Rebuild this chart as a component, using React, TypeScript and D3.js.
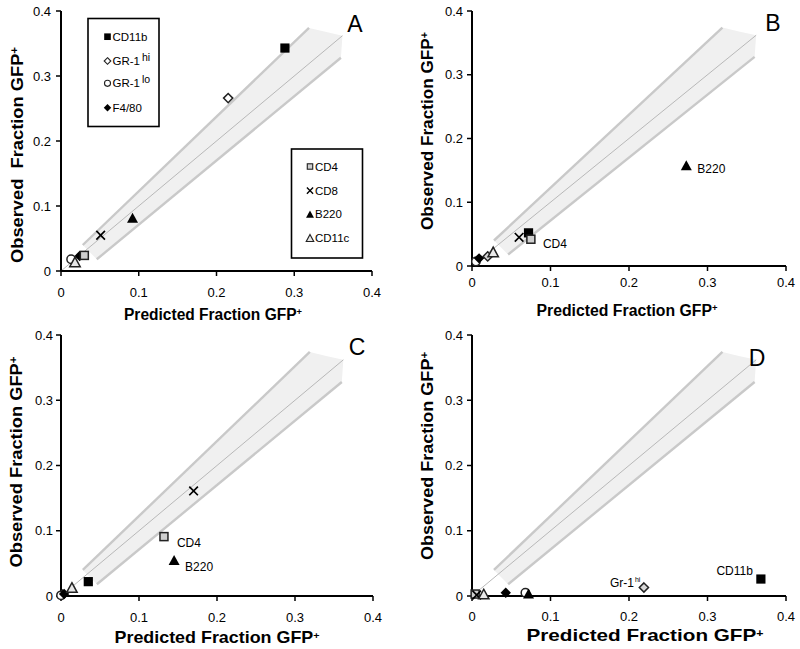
import React from "react";
import * as d3 from "d3";

// ---------- data ----------
const seriesNames = ["CD11b", "GR-1hi", "GR-1lo", "F4/80", "CD4", "CD8", "B220", "CD11c"];
const tickValues = [0, 0.1, 0.2, 0.3, 0.4];

const predA = [0.288, 0.215, 0.013, 0.024, 0.030, 0.051, 0.092, 0.018];
const obsA = [0.343, 0.266, 0.018, 0.023, 0.024, 0.055, 0.082, 0.014];

const predB = [0.072, 0.020, 0.005, 0.009, 0.075, 0.060, 0.273, 0.027];
const obsB = [0.052, 0.015, 0.007, 0.012, 0.042, 0.045, 0.158, 0.022];

const predC = [0.035, 0.002, 0.000, 0.004, 0.132, 0.170, 0.145, 0.014];
const obsC = [0.022, 0.002, 0.001, 0.003, 0.091, 0.161, 0.055, 0.013];

const predD = [0.368, 0.219, 0.068, 0.043, 0.004, 0.006, 0.072, 0.015];
const obsD = [0.026, 0.013, 0.005, 0.005, 0.003, 0.0015, 0.004, 0.003];

// confidence cone (data coordinates)
const coneUpper: [number, number][] = [[0.028, 0.040], [0.319, 0.374]];
const coneLower: [number, number][] = [[0.046, 0.018], [0.360, 0.328]];
const coneCap: [number, number][] = [[0.340, 0.368], [0.362, 0.362]];
const identityLine: [number, number][] = [[0, 0], [0.362, 0.362]];

const FONT = "'Liberation Sans', Arial, Helvetica, sans-serif";

type Box = { l: number; r: number; t: number; b: number };
type Ann = { idx: number; text: string; sup?: string; dx: number; dy: number; anchor?: string };
type PanelCfg = {
  letter: string;
  letterPos: [number, number];
  pred: number[];
  obs: number[];
  box: Box;
  xTickOff: number;
  yTickOff: number;
  xLabelPos: [number, number];
  xLabelLen: number;
  xLabelSize: number;
  yLabelPos: [number, number];
  yLabelLen: number;
  yLabelText: string;
  hiFill: string;
  anns: Ann[];
  legend?: boolean;
};

const panels: PanelCfg[] = [
  {
    letter: "A", letterPos: [355, 32], pred: predA, obs: obsA,
    box: { l: 61, r: 372, t: 11, b: 271 }, xTickOff: 26, yTickOff: 10,
    xLabelPos: [213, 319.5], xLabelLen: 178, xLabelSize: 16,
    yLabelPos: [23, 155], yLabelLen: 216, yLabelText: "Observed  Fraction GFP",
    hiFill: "#ffffff", anns: [], legend: true,
  },
  {
    letter: "B", letterPos: [773, 31], pred: predB, obs: obsB,
    box: { l: 472, r: 786, t: 11, b: 266 }, xTickOff: 21, yTickOff: 9,
    xLabelPos: [627, 315.5], xLabelLen: 181, xLabelSize: 16,
    yLabelPos: [433, 131], yLabelLen: 198, yLabelText: "Observed Fraction GFP",
    hiFill: "#d8d8d8",
    anns: [
      { idx: 6, text: "B220", dx: 11, dy: 8 },
      { idx: 4, text: "CD4", dx: 12, dy: 9 },
    ],
  },
  {
    letter: "C", letterPos: [357, 355], pred: predC, obs: obsC,
    box: { l: 61, r: 373, t: 335, b: 596 }, xTickOff: 26, yTickOff: 8,
    xLabelPos: [217, 643], xLabelLen: 205, xLabelSize: 16.5,
    yLabelPos: [22, 462], yLabelLen: 211, yLabelText: "Observed Fraction GFP",
    hiFill: "#d8d8d8",
    anns: [
      { idx: 4, text: "CD4", dx: 13, dy: 10 },
      { idx: 6, text: "B220", dx: 11, dy: 11 },
    ],
  },
  {
    letter: "D", letterPos: [757, 366], pred: predD, obs: obsD,
    box: { l: 472, r: 786, t: 335, b: 596 }, xTickOff: 25, yTickOff: 9,
    xLabelPos: [645, 641], xLabelLen: 237, xLabelSize: 17,
    yLabelPos: [433, 456], yLabelLen: 208, yLabelText: "Observed Fraction GFP",
    hiFill: "#d8d8d8",
    anns: [
      { idx: 0, text: "CD11b", dx: -8, dy: -4, anchor: "end" },
      { idx: 1, text: "Gr-1", sup: "hi", dx: -34, dy: -1 },
    ],
  },
];

function Marker({ name, cx, cy, k = 1, hiFill = "#fff" }: { name: string; cx: number; cy: number; k?: number; hiFill?: string }) {
  const h = 4.6 * k;
  const sw = 1.5 * Math.max(0.75, k);
  switch (name) {
    case "CD11b":
      return <rect x={cx - h} y={cy - h} width={2 * h} height={2 * h} fill="#000" />;
    case "CD4":
      return <rect x={cx - h + 0.6} y={cy - h + 0.6} width={2 * h - 1.2} height={2 * h - 1.2} fill="#cfcfcf" stroke="#222" strokeWidth={sw} />;
    case "GR-1hi": {
      const d = 4.6 * k;
      return <path d={`M${cx},${cy - d}L${cx + d},${cy}L${cx},${cy + d}L${cx - d},${cy}Z`} fill={hiFill} stroke="#222" strokeWidth={sw} />;
    }
    case "F4/80": {
      const d = 5.2 * k;
      return <path d={`M${cx},${cy - d}L${cx + d},${cy}L${cx},${cy + d}L${cx - d},${cy}Z`} fill="#000" />;
    }
    case "GR-1lo":
      return <circle cx={cx} cy={cy} r={4.2 * k} fill="#fff" stroke="#222" strokeWidth={sw} />;
    case "CD8": {
      const d = 4.3 * k;
      return <path d={`M${cx - d},${cy - d}L${cx + d},${cy + d}M${cx - d},${cy + d}L${cx + d},${cy - d}`} stroke="#000" strokeWidth={1.7 * Math.max(0.8, k)} fill="none" />;
    }
    case "B220": {
      const w = 5.5 * k, hh = 5 * k;
      return <path d={`M${cx},${cy - hh}L${cx + w},${cy + hh}L${cx - w},${cy + hh}Z`} fill="#000" />;
    }
    case "CD11c": {
      const w = 5.2 * k, hh = 4.8 * k;
      return <path d={`M${cx},${cy - hh}L${cx + w},${cy + hh}L${cx - w},${cy + hh}Z`} fill="#e8e8e8" stroke="#222" strokeWidth={sw} />;
    }
  }
  return null;
}

function LegendLabel({ name, x, y }: { name: string; x: number; y: number }) {
  if (name === "GR-1hi" || name === "GR-1lo") {
    return (
      <text x={x} y={y} fontSize={11.5} fontFamily={FONT} fill="#000" style={{ whiteSpace: "pre" }}>
        GR-1
        <tspan dx={2} dy={-4} fontSize={10.5}>{name === "GR-1hi" ? "hi" : "lo"}</tspan>
      </text>
    );
  }
  return (
    <text x={x} y={y} fontSize={11.5} fontFamily={FONT} fill="#000">
      {name}
    </text>
  );
}

function Panel({ cfg }: { cfg: PanelCfg }) {
  const { box } = cfg;
  const x = d3.scaleLinear().domain([0, 0.4]).range([box.l, box.r]);
  const y = d3.scaleLinear().domain([0, 0.4]).range([box.b, box.t]);
  const line = d3.line<[number, number]>().x((d) => x(d[0])).y((d) => y(d[1]));
  const conePoly: [number, number][] = [coneUpper[0], coneUpper[1], ...coneCap, coneLower[1], coneLower[0]];
  const fmt = (v: number) => (v === 0 ? "0" : String(v));

  return (
    <g>
      {/* cone */}
      <path d={line(conePoly) + "Z"} fill="#f0f0f0" stroke="none" />
      <path d={line(coneUpper) || ""} stroke="#c9c9c9" strokeWidth={2.4} fill="none" />
      <path d={line(coneLower) || ""} stroke="#c9c9c9" strokeWidth={2.4} fill="none" />
      <path d={line(identityLine) || ""} stroke="#b8b8b8" strokeWidth={1} fill="none" />

      {/* axes */}
      <line x1={box.l} x2={box.r} y1={box.b} y2={box.b} stroke="#000" strokeWidth={2} />
      <line x1={box.l} x2={box.l} y1={box.t} y2={box.b} stroke="#000" strokeWidth={2} />
      {tickValues.map((t) => (
        <g key={"xt" + t}>
          <line x1={x(t)} x2={x(t)} y1={box.b} y2={box.b + 5} stroke="#000" strokeWidth={1.5} />
          <text x={x(t)} y={box.b + cfg.xTickOff} textAnchor="middle" fontSize={13} fontFamily={FONT} fill="#000">
            {fmt(t)}
          </text>
        </g>
      ))}
      {tickValues.map((t) => (
        <g key={"yt" + t}>
          <line x1={box.l - 5} x2={box.l} y1={y(t)} y2={y(t)} stroke="#000" strokeWidth={1.5} />
          <text x={box.l - cfg.yTickOff} y={y(t) + 4.6} textAnchor="end" fontSize={13} fontFamily={FONT} fill="#000">
            {fmt(t)}
          </text>
        </g>
      ))}

      {/* axis titles */}
      <text
        x={cfg.xLabelPos[0]} y={cfg.xLabelPos[1]} textAnchor="middle" fontSize={cfg.xLabelSize}
        fontWeight="bold" fontFamily={FONT} fill="#000" textLength={cfg.xLabelLen} lengthAdjust="spacingAndGlyphs"
      >
        Predicted Fraction GFP<tspan dy={-4.5} fontSize={cfg.xLabelSize * 0.6}>+</tspan>
      </text>
      <text
        transform={`translate(${cfg.yLabelPos[0]},${cfg.yLabelPos[1]}) rotate(-90)`}
        textAnchor="middle" fontSize={16} fontWeight="bold" fontFamily={FONT} fill="#000"
        textLength={cfg.yLabelLen} lengthAdjust="spacingAndGlyphs" style={{ whiteSpace: "pre" }}
      >
        {cfg.yLabelText}<tspan dy={-5} fontSize={10}>+</tspan>
      </text>

      {/* panel letter */}
      <text x={cfg.letterPos[0]} y={cfg.letterPos[1]} textAnchor="middle" fontSize={23} fontFamily={FONT} fill="#000">
        {cfg.letter}
      </text>

      {/* points */}
      {seriesNames.map((name, i) => (
        <Marker key={name} name={name} cx={x(cfg.pred[i])} cy={y(cfg.obs[i])} hiFill={cfg.hiFill} />
      ))}

      {/* annotations */}
      {cfg.anns.map((a) => (
        <text
          key={a.text}
          x={x(cfg.pred[a.idx]) + a.dx}
          y={y(cfg.obs[a.idx]) + a.dy}
          textAnchor={a.anchor || "start"}
          fontSize={12}
          fontFamily={FONT}
          fill="#000"
        >
          {a.text}
          {a.sup ? <tspan dx={1} dy={-5} fontSize={7}>{a.sup}</tspan> : null}
        </text>
      ))}

      {cfg.legend ? (
        <g>
          <rect x={88} y={18.5} width={71} height={108} fill="#fff" stroke="#000" strokeWidth={1.6} />
          {seriesNames.slice(0, 4).map((n, i) => {
            const cy = [36.7, 61, 83.3, 107.7][i];
            return (
              <g key={"l1" + n}>
                <Marker name={n} cx={107.5} cy={cy} k={0.72} hiFill="#fff" />
                <LegendLabel name={n} x={112.5} y={cy + 4} />
              </g>
            );
          })}
          <rect x={291.5} y={149} width={71} height={109} fill="#fff" stroke="#000" strokeWidth={1.6} />
          {seriesNames.slice(4).map((n, i) => {
            const cy = [166.5, 190.7, 214.2, 238][i];
            return (
              <g key={"l2" + n}>
                <Marker name={n} cx={310} cy={cy} k={0.72} />
                <LegendLabel name={n} x={315} y={cy + 4} />
              </g>
            );
          })}
        </g>
      ) : null}
    </g>
  );
}

export default function App() {
  return (
    <svg
      width={800}
      height={649}
      viewBox="0 0 800 649"
      style={{ position: "absolute", left: 0, top: 0, background: "#fff" }}
    >
      <rect width={800} height={649} fill="#fff" />
      {panels.map((p) => (
        <Panel key={p.letter} cfg={p} />
      ))}
    </svg>
  );
}
